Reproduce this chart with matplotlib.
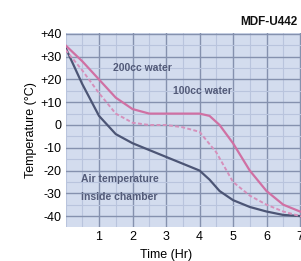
import matplotlib
matplotlib.use("Agg")
import matplotlib.pyplot as plt
from matplotlib.ticker import MultipleLocator

# Data
t_air = [0, 0.5, 1, 1.5, 2, 2.5, 3, 3.5, 4, 4.3, 4.6, 5, 5.5, 6, 6.5, 7, 7.2]
v_air = [34, 18, 4, -4, -8, -11, -14, -17, -20, -24, -29, -33, -36, -38, -39.5, -40, -40.5]
t_200 = [0, 0.5, 1, 1.5, 2, 2.5, 3, 3.5, 4, 4.3, 4.6, 5, 5.5, 6, 6.5, 7, 7.2]
v_200 = [35, 28, 20, 12, 7, 5, 5, 5, 5, 4, 0, -8, -20, -29, -35, -38, -38.5]
t_100 = [0, 0.5, 1, 1.5, 2, 2.5, 3, 3.5, 4, 4.5, 5, 5.5, 6, 6.5, 7, 7.2]
v_100 = [33, 24, 14, 5, 1, 0, 0, -1, -3, -12, -25, -31, -35, -38, -40, -40.5]
xticks = [1, 2, 3, 4, 5, 6, 7]
yticks = [40, 30, 20, 10, 0, -10, -20, -30, -40]
ylabels = ["+40", "+30", "+20", "+10", "0", "-10", "-20", "-30", "-40"]

font = ["Liberation Sans Narrow", "Liberation Sans", "DejaVu Sans"]
plt.rcParams['font.family'] = font

fig = plt.figure(figsize=(3.01, 2.61), dpi=100)
ax = fig.add_axes([65.5/301, 34/261, 7.2*33.5/301, 194/261])
ax.set_facecolor("#d3dcee")
ax.set_xlim(0, 7.2)
ax.set_ylim(-44.8, 40.4)

ax.xaxis.set_minor_locator(MultipleLocator(0.5))
ax.yaxis.set_minor_locator(MultipleLocator(5))
ax.grid(which='major', color="#8591ae", linewidth=1.0)
ax.grid(which='minor', color="#b9c4dd", linewidth=0.8)
ax.set_axisbelow(True)
for s in ax.spines.values():
    s.set_visible(False)

ax.plot(t_air, v_air, color="#4c5575", linewidth=1.6)
ax.plot(t_100, v_100, color="#d690bb", linewidth=1.4, linestyle=(0, (2, 1.2)))
ax.plot(t_200, v_200, color="#d070a3", linewidth=1.6)

ax.set_xticks(xticks)
ax.set_xticklabels([str(x) for x in xticks], fontsize=9)
ax.set_yticks(yticks)
ax.set_yticklabels(ylabels, fontsize=9)
ax.tick_params(which='both', length=0, pad=3)
ax.set_xlabel("Time (Hr)", fontsize=9)
ax.xaxis.set_label_coords(3/7.2, -0.115)
ax.set_ylabel("Temperature (°C)", fontsize=9, labelpad=2)

lab = dict(fontsize=7.5, fontweight='bold', color="#525a78", va='center')
ax.text(1.42, 25, "200cc water", **lab)
ax.text(3.2, 15, "100cc water", **lab)
ax.text(0.45, -23.7, "Air temperature", **lab)
ax.text(0.45, -31.6, "inside chamber", **lab)

fig.text(240/301, 1 - 22/261, "MDF-U442", fontsize=8.5, fontweight='bold',
         ha='left', va='center', color="#111111")

fig.savefig("out.png", dpi=100)
